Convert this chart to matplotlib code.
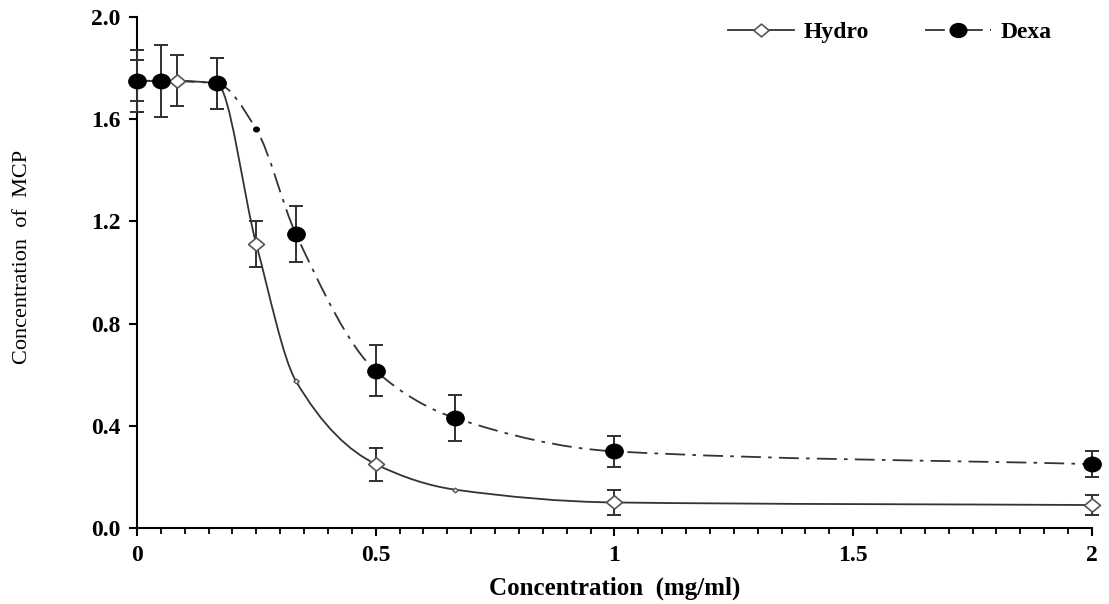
import numpy as np
import matplotlib.pyplot as plt
from matplotlib.path import Path
from matplotlib.patches import PathPatch
from matplotlib.lines import Line2D
from matplotlib.transforms import Affine2D
from matplotlib.ticker import MultipleLocator

# Data
hydro_x = [0, 0.083, 0.167, 0.25, 0.333, 0.5, 0.667, 1, 2]
hydro_y = [1.75, 1.75, 1.74, 1.11, 0.575, 0.25, 0.15, 0.10, 0.09]
hydro_err = [0.08, 0.10, 0.10, 0.09, 0, 0.065, 0, 0.048, 0.038]

dexa_x = [0, 0.05, 0.167, 0.25, 0.333, 0.5, 0.667, 1, 2]
dexa_y = [1.75, 1.75, 1.74, 1.56, 1.15, 0.615, 0.43, 0.30, 0.25]
dexa_err = [0.12, 0.14, 0.10, 0, 0.11, 0.10, 0.09, 0.062, 0.052]

serif = ['Liberation Serif', 'DejaVu Serif']
plt.rcParams['font.family'] = serif


# Smooth line through the points (monotone cubic, drawn as Bezier path)
def smooth_path(x, y):
    x = np.asarray(x, float)
    y = np.asarray(y, float)
    h = np.diff(x)
    d = np.diff(y) / h
    m = np.zeros_like(x)
    m[0] = d[0]
    m[-1] = d[-1]
    for k in range(1, len(x) - 1):
        if d[k - 1] * d[k] <= 0:
            m[k] = 0
        else:
            w1 = 2 * h[k] + h[k - 1]
            w2 = h[k] + 2 * h[k - 1]
            m[k] = (w1 + w2) / (w1 / d[k - 1] + w2 / d[k])
    verts = [(x[0], y[0])]
    codes = [Path.MOVETO]
    for i in range(len(x) - 1):
        verts.append((x[i] + h[i] / 3, y[i] + m[i] * h[i] / 3))
        verts.append((x[i + 1] - h[i] / 3, y[i + 1] - m[i + 1] * h[i] / 3))
        verts.append((x[i + 1], y[i + 1]))
        codes += [Path.CURVE4] * 3
    return Path(verts, codes)


line_col = '#333333'
dexa_dash = (0, (11, 4, 2, 4))
ellipse = Path.unit_circle().transformed(Affine2D().scale(1.2, 1.0))
diamond = [(-1.2, 0), (0, 1), (1.2, 0), (0, -1), (-1.2, 0)]

fig = plt.figure(figsize=(11.09, 6.04), dpi=100)
ax = fig.add_axes([0.1235, 0.1258, 0.8611, 0.8461])

# curves
ax.add_patch(PathPatch(smooth_path(hydro_x, hydro_y), fill=False,
                       edgecolor=line_col, lw=1.3, clip_on=False, zorder=2))
ax.add_patch(PathPatch(smooth_path(dexa_x, dexa_y), fill=False,
                       edgecolor=line_col, lw=1.3, linestyle=dexa_dash,
                       clip_on=False, zorder=2))

# error bars
for xs, ys, es in [(hydro_x, hydro_y, hydro_err), (dexa_x, dexa_y, dexa_err)]:
    xs = np.array(xs); ys = np.array(ys); es = np.array(es)
    k = es > 0
    eb = ax.errorbar(xs[k], ys[k], yerr=es[k], fmt='none', ecolor='#303030',
                     elinewidth=1.4, capsize=5, capthick=1.4, zorder=3)
    for art in eb.lines[1] + eb.lines[2]:
        art.set_clip_on(False)

# markers
hx = np.array(hydro_x); hy = np.array(hydro_y); he = np.array(hydro_err)
dx = np.array(dexa_x); dy = np.array(dexa_y); de = np.array(dexa_err)
ax.plot(hx[he > 0], hy[he > 0], linestyle='none', marker=diamond, ms=11.5,
        mfc='white', mec='#555555', mew=1.2, clip_on=False, zorder=4)
ax.plot(hx[he == 0], hy[he == 0], linestyle='none', marker=diamond, ms=4,
        mfc='white', mec='#555555', mew=1.0, clip_on=False, zorder=4)
ax.plot(dx[de > 0], dy[de > 0], linestyle='none', marker=ellipse, ms=12.5,
        mfc='black', mec='black', clip_on=False, zorder=5)
ax.plot(dx[de == 0], dy[de == 0], linestyle='none', marker=ellipse, ms=4,
        mfc='black', mec='black', clip_on=False, zorder=5)

# axes
ax.set_xlim(0, 2)
ax.set_ylim(0, 2.0)
ax.xaxis.set_minor_locator(MultipleLocator(0.05))
ax.set_xticks([0, 0.5, 1, 1.5, 2])
ax.set_xticklabels(['0', '0.5', '1', '1.5', '2'])
ax.set_yticks([0, 0.4, 0.8, 1.2, 1.6, 2.0])
ax.set_yticklabels(['0.0', '0.4', '0.8', '1.2', '1.6', '2.0'])
ax.spines['top'].set_visible(False)
ax.spines['right'].set_visible(False)
ax.spines['left'].set_linewidth(1.5)
ax.spines['bottom'].set_linewidth(1.5)
ax.tick_params(axis='both', which='major', direction='out', length=6,
               width=1.5, labelsize=17, pad=6)
ax.tick_params(axis='x', which='minor', direction='out', length=4, width=1.3)
for lab in ax.get_xticklabels() + ax.get_yticklabels():
    lab.set_fontweight('bold')

ax.set_xlabel('Concentration  (mg/ml)', fontsize=18, fontweight='bold',
              labelpad=8)
ax.set_ylabel('Concentration  of  MCP', fontsize=16)
ax.yaxis.set_label_coords(-0.11, 0.53)

handles = [
    Line2D([], [], color=line_col, lw=1.3, marker=diamond, ms=11,
           mfc='white', mec='#555555', mew=1.2),
    Line2D([], [], color=line_col, lw=1.3, linestyle=dexa_dash,
           marker=ellipse, ms=12, mfc='black', mec='black'),
]
ax.legend(handles, ['Hydro', 'Dexa'], ncol=2, frameon=False,
          loc='upper right', bbox_to_anchor=(0.968, 1.01), borderaxespad=0,
          handlelength=2.8, handletextpad=0.4, columnspacing=2.4,
          prop={'family': serif, 'weight': 'bold', 'size': 17})

fig.savefig('out.png', dpi=100)
